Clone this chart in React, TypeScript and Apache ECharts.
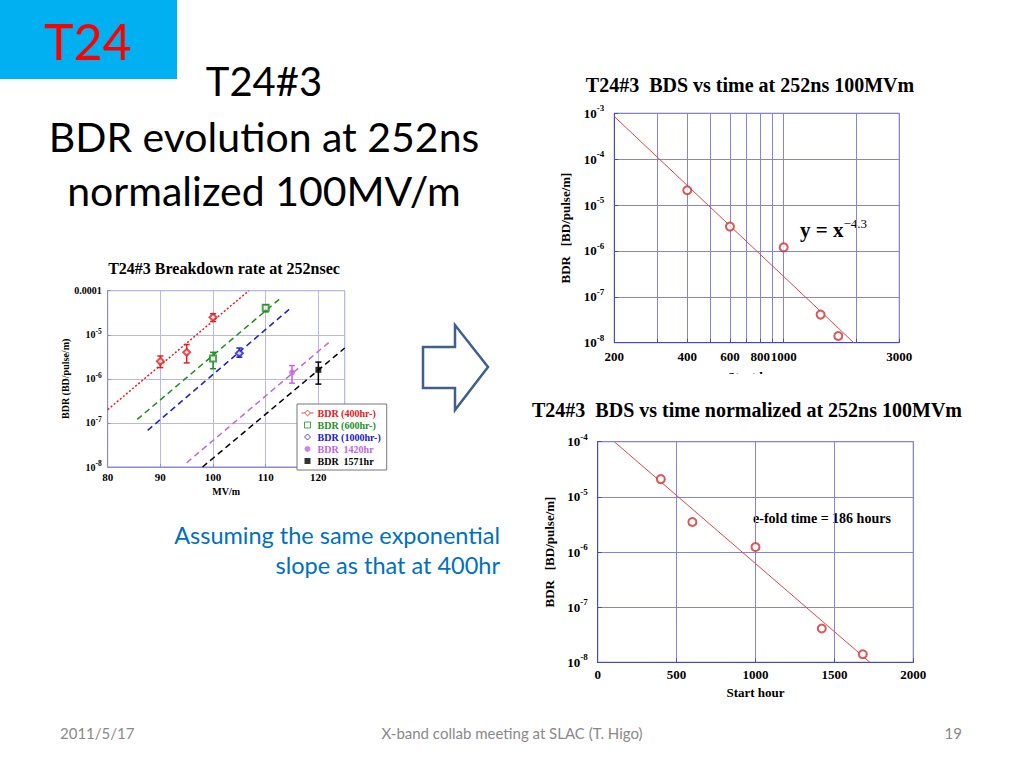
import React, { useEffect, useRef } from "react";
import * as echarts from "echarts";

// ---------- Left chart: T24#3 Breakdown rate at 252nsec (BDR vs MV/m) ----------
const fieldTicksA = [80, 90, 100, 110, 120];

const bdr400Field = [90, 95, 100];
const bdr400Value = [2.5e-6, 4.0e-6, 2.5e-5];
const bdr400Low = [1.8e-6, 2.3e-6, 2.0e-5];
const bdr400High = [3.3e-6, 6.0e-6, 3.0e-5];
const bdr400FitField = [80, 106.8];
const bdr400FitValue = [2.0e-7, 1.0e-4];

const bdr600Field = [100, 110];
const bdr600Value = [2.9e-6, 4.1e-5];
const bdr600Low = [1.7e-6, 3.3e-5];
const bdr600High = [4.0e-6, 4.8e-5];
const bdr600FitField = [85.6, 112.9];
const bdr600FitValue = [1.2e-7, 6.9e-5];

const bdr1000Field = [105];
const bdr1000Value = [3.8e-6];
const bdr1000Low = [3.1e-6];
const bdr1000High = [5.0e-6];
const bdr1000FitField = [87.6, 114.7];
const bdr1000FitValue = [6.8e-8, 4.0e-5];

const bdr1420Field = [115];
const bdr1420Value = [1.4e-6];
const bdr1420Low = [8.0e-7];
const bdr1420High = [2.0e-6];
const bdr1420FitField = [95, 122.3];
const bdr1420FitValue = [1.25e-8, 7.2e-6];

const bdr1571Field = [120];
const bdr1571Value = [1.6e-6];
const bdr1571Low = [7.6e-7];
const bdr1571High = [2.4e-6];
const bdr1571FitField = [98, 125];
const bdr1571FitValue = [1.0e-8, 5.0e-6];

const legendNamesA = ["BDR (400hr-)", "BDR (600hr-)", "BDR (1000hr-)", "BDR  1420hr", "BDR  1571hr"];

// ---------- Top-right chart: BDS vs time at 252ns 100MVm (log-log) ----------
const startHours = [400, 600, 1000, 1420, 1680];
const bdsAt100 = [2.1e-5, 3.4e-6, 1.2e-6, 4.1e-8, 1.4e-8];
const powerFitHours = [200, 1946];
const powerFitValue = [8.5e-4, 1.0e-8];
const hourTicksB = [200, 300, 400, 500, 600, 700, 800, 900, 1000, 2000, 3000];
const hourLabelsB = [200, 400, 600, 800, 1000, 3000];

// ---------- Bottom-right chart: BDS vs time normalized ----------
const bdsNormalized = [2.1e-5, 3.5e-6, 1.23e-6, 4.1e-8, 1.4e-8];
const expFitHours = [105, 1725];
const expFitValue = [1.0e-4, 1.0e-8];

const SERIF = '"Liberation Serif", "Times New Roman", serif';
const SANS = 'Lato, "Noto Sans", sans-serif';

const RED = "#e02020";
const GREEN = "#1f8f1f";
const BLUE = "#2020c8";
const PURPLE = "#c066e0";
const BLACK = "#000000";
const FIT_RED = "#d84848";

const AXIS_A = "#8a8ad6";
const GRID_A = "#b8b8ec";
const AXIS_B = "#4848c4";
const GRID_B = "#8484dc";

const pairs = (xs: number[], ys: number[]) => xs.map((x, i) => [x, ys[i]]);
const logPairs = (xs: number[], ys: number[]) => xs.map((x, i) => [Math.log10(x), ys[i]]);

function errorBars(name: string, xs: number[], lo: number[], hi: number[], color: string) {
  return {
    type: "custom",
    name,
    xAxisIndex: 0,
    yAxisIndex: 0,
    z: 2,
    silent: true,
    data: xs.map((x, i) => [x, lo[i], hi[i]]),
    encode: { x: 0, y: [1, 2] },
    renderItem: (_params: any, api: any) => {
      const x = api.value(0);
      const a = api.coord([x, api.value(1)]);
      const b = api.coord([x, api.value(2)]);
      const st = { stroke: color, lineWidth: 1.5 };
      return {
        type: "group",
        children: [
          { type: "line", shape: { x1: a[0], y1: a[1], x2: b[0], y2: b[1] }, style: st },
          { type: "line", shape: { x1: a[0] - 3, y1: a[1], x2: a[0] + 3, y2: a[1] }, style: st },
          { type: "line", shape: { x1: b[0] - 3, y1: b[1], x2: b[0] + 3, y2: b[1] }, style: st },
        ],
      };
    },
  };
}

function fitLine(name: string, data: number[][], color: string, dash: number[] | string, axis: number, width = 1.5) {
  return {
    type: "line",
    name,
    xAxisIndex: axis,
    yAxisIndex: axis,
    data,
    showSymbol: false,
    symbol: "none",
    silent: true,
    z: 1,
    lineStyle: { color, width, type: dash },
  };
}

const supRich = (size: number, supSize: number, lh: number) => ({
  b: { fontFamily: SERIF, fontWeight: "bold", fontSize: size, color: "#000", lineHeight: lh },
  s: { fontFamily: SERIF, fontWeight: "bold", fontSize: supSize, color: "#000", lineHeight: supSize + 2, verticalAlign: "top" },
});

const decadeLabel = (v: number) => `{b|10}{s|${Math.round(Math.log10(v))}}`;

export default function App() {
  const ref = useRef<HTMLDivElement>(null);

  useEffect(() => {
    if (!ref.current) return;
    const chart = echarts.init(ref.current, null, { renderer: "svg" });

    const boldSerif = (size: number) => ({ fontFamily: SERIF, fontWeight: "bold", fontSize: size, color: "#000" });

    const option: any = {
      animation: false,
      backgroundColor: "#ffffff",
      grid: [
        { left: 107.7, top: 290.7, width: 237, height: 176.3, show: true, borderColor: AXIS_A, borderWidth: 1 },
        { left: 614.3, top: 113.3, width: 285, height: 229.4, show: true, borderColor: AXIS_B, borderWidth: 1 },
        { left: 597.7, top: 441.7, width: 315.6, height: 220.6, show: true, borderColor: AXIS_B, borderWidth: 1 },
      ],
      xAxis: [
        {
          gridIndex: 0,
          type: "value",
          min: 80,
          max: 125,
          interval: 10,
          axisLine: { show: true, lineStyle: { color: AXIS_A } },
          axisTick: { show: true, inside: true, length: 3, lineStyle: { color: AXIS_A } },
          splitLine: { show: true, lineStyle: { color: GRID_A, width: 1 } },
          axisLabel: {
            ...boldSerif(11),
            margin: 4,
            formatter: (v: number) => (fieldTicksA.includes(v) ? String(v) : ""),
          },
          name: "MV/m",
          nameLocation: "middle",
          nameGap: 19,
          nameTextStyle: boldSerif(10),
        },
        {
          gridIndex: 1,
          type: "value",
          min: Math.log10(200),
          max: Math.log10(3000),
          axisLine: { show: true, lineStyle: { color: AXIS_B } },
          axisTick: {
            show: true,
            inside: true,
            length: 4,
            lineStyle: { color: AXIS_B },
            customValues: hourTicksB.map((h) => Math.log10(h)),
          },
          splitLine: { show: true, lineStyle: { color: GRID_B, width: 1 } },
          axisLabel: {
            ...boldSerif(13),
            margin: 7,
            hideOverlap: false,
            customValues: hourLabelsB.map((h) => Math.log10(h)),
            formatter: (v: number) => String(Math.round(Math.pow(10, v))),
          },
          name: "Start hour",
          nameLocation: "middle",
          nameGap: 27,
          nameTextStyle: boldSerif(13),
        },
        {
          gridIndex: 2,
          type: "value",
          min: 0,
          max: 2000,
          interval: 500,
          axisLine: { show: true, lineStyle: { color: AXIS_B } },
          axisTick: { show: true, inside: true, length: 4, lineStyle: { color: AXIS_B } },
          splitLine: { show: true, lineStyle: { color: GRID_B, width: 1 } },
          axisLabel: { ...boldSerif(13), margin: 6, formatter: (v: number) => String(v) },
          name: "Start hour",
          nameLocation: "middle",
          nameGap: 24,
          nameTextStyle: boldSerif(13),
        },
      ],
      yAxis: [
        {
          gridIndex: 0,
          type: "log",
          logBase: 10,
          min: 1e-8,
          max: 1e-4,
          axisLine: { show: true, lineStyle: { color: AXIS_A } },
          axisTick: { show: true, inside: true, length: 3, lineStyle: { color: AXIS_A } },
          splitLine: { show: true, lineStyle: { color: GRID_A, width: 1 } },
          axisLabel: {
            margin: 6,
            formatter: (v: number) => {
              const e = Math.round(Math.log10(v));
              return e === -4 ? "{b|0.0001}" : `{b|10}{s|${e}}`;
            },
            rich: supRich(10, 7.5, 15),
          },
          name: "BDR (BD/pulse/m)",
          nameLocation: "middle",
          nameGap: 29,
          nameTextStyle: boldSerif(10),
        },
        {
          gridIndex: 1,
          type: "log",
          logBase: 10,
          min: 1e-8,
          max: 1e-3,
          axisLine: { show: true, lineStyle: { color: AXIS_B } },
          axisTick: { show: true, inside: true, length: 4, lineStyle: { color: AXIS_B } },
          splitLine: { show: true, lineStyle: { color: GRID_B, width: 1 } },
          axisLabel: { margin: 10, formatter: decadeLabel, rich: supRich(13, 9, 19) },
          name: "BDR   [BD/pulse/m]",
          nameLocation: "middle",
          nameGap: 42,
          nameTextStyle: boldSerif(13),
        },
        {
          gridIndex: 2,
          type: "log",
          logBase: 10,
          min: 1e-8,
          max: 1e-4,
          axisLine: { show: true, lineStyle: { color: AXIS_B } },
          axisTick: { show: true, inside: true, length: 4, lineStyle: { color: AXIS_B } },
          splitLine: { show: true, lineStyle: { color: GRID_B, width: 1 } },
          axisLabel: { margin: 10, formatter: decadeLabel, rich: supRich(13, 9, 19) },
          name: "BDR   [BD/pulse/m]",
          nameLocation: "middle",
          nameGap: 42,
          nameTextStyle: boldSerif(13),
        },
      ],
      legend: {
        orient: "vertical",
        left: 297,
        top: 404,
        selectedMode: false,
        itemWidth: 12,
        itemHeight: 6,
        itemGap: 0,
        padding: [3, 6, 3, 4],
        backgroundColor: "#ffffff",
        borderColor: "#777777",
        borderWidth: 1,
        borderRadius: 0,
        textStyle: { fontFamily: SERIF, fontWeight: "bold", fontSize: 10, lineHeight: 12, padding: [0, 0, 0, -1] },
        data: [
          {
            name: legendNamesA[0],
            icon: "path://M0,5L2.6,5M7.4,5L10,5M5,2.6L7.4,5L5,7.4L2.6,5Z",
            itemStyle: { color: "#ffffff", borderColor: RED, borderWidth: 1 },
            textStyle: { color: RED },
          },
          {
            name: legendNamesA[1],
            icon: "path://M0,0L10,0L10,10L0,10Z",
            itemStyle: { color: "#ffffff", borderColor: GREEN, borderWidth: 1 },
            textStyle: { color: GREEN },
          },
          {
            name: legendNamesA[2],
            icon: "path://M5,0L10,5L5,10L0,5Z",
            itemStyle: { color: "#ffffff", borderColor: BLUE, borderWidth: 1 },
            textStyle: { color: BLUE },
          },
          {
            name: legendNamesA[3],
            icon: "circle",
            itemStyle: { color: PURPLE, borderWidth: 0 },
            textStyle: { color: PURPLE },
          },
          {
            name: legendNamesA[4],
            icon: "path://M0,0L10,0L10,10L0,10Z",
            itemStyle: { color: BLACK, borderWidth: 0 },
            textStyle: { color: BLACK },
          },
        ],
      },
      series: [
        // fit lines, left chart
        fitLine("fit400", pairs(bdr400FitField, bdr400FitValue), RED, [2, 2], 0),
        fitLine("fit600", pairs(bdr600FitField, bdr600FitValue), GREEN, [6, 4], 0),
        fitLine("fit1000", pairs(bdr1000FitField, bdr1000FitValue), BLUE, [6, 4], 0),
        fitLine("fit1420", pairs(bdr1420FitField, bdr1420FitValue), PURPLE, [6, 4], 0),
        fitLine("fit1571", pairs(bdr1571FitField, bdr1571FitValue), BLACK, [6, 4], 0),
        // error bars
        errorBars("err400", bdr400Field, bdr400Low, bdr400High, RED),
        errorBars("err600", bdr600Field, bdr600Low, bdr600High, GREEN),
        errorBars("err1000", bdr1000Field, bdr1000Low, bdr1000High, BLUE),
        errorBars("err1420", bdr1420Field, bdr1420Low, bdr1420High, PURPLE),
        errorBars("err1571", bdr1571Field, bdr1571Low, bdr1571High, BLACK),
        // measured points
        {
          type: "scatter", name: legendNamesA[0], xAxisIndex: 0, yAxisIndex: 0, z: 3,
          data: pairs(bdr400Field, bdr400Value), symbol: "emptyDiamond", symbolSize: 7,
          itemStyle: { color: RED, borderWidth: 1 },
        },
        {
          type: "scatter", name: legendNamesA[1], xAxisIndex: 0, yAxisIndex: 0, z: 3,
          data: pairs(bdr600Field, bdr600Value), symbol: "emptyRect", symbolSize: 6,
          itemStyle: { color: GREEN, borderWidth: 1 },
        },
        {
          type: "scatter", name: legendNamesA[2], xAxisIndex: 0, yAxisIndex: 0, z: 3,
          data: pairs(bdr1000Field, bdr1000Value), symbol: "emptyDiamond", symbolSize: 7,
          itemStyle: { color: BLUE, borderWidth: 1 },
        },
        {
          type: "scatter", name: legendNamesA[3], xAxisIndex: 0, yAxisIndex: 0, z: 3,
          data: pairs(bdr1420Field, bdr1420Value), symbol: "circle", symbolSize: 6,
          itemStyle: { color: PURPLE },
        },
        {
          type: "scatter", name: legendNamesA[4], xAxisIndex: 0, yAxisIndex: 0, z: 3,
          data: pairs(bdr1571Field, bdr1571Value), symbol: "rect", symbolSize: 6,
          itemStyle: { color: BLACK },
        },
        // top-right chart
        fitLine("powerFit", logPairs(powerFitHours, powerFitValue), FIT_RED, "solid", 1, 1),
        {
          type: "scatter", name: "BDS at 100MV/m", xAxisIndex: 1, yAxisIndex: 1, z: 3,
          data: logPairs(startHours, bdsAt100), symbol: "emptyCircle", symbolSize: 8,
          itemStyle: { color: "#d03030", borderWidth: 0.8 },
        },
        // bottom-right chart
        fitLine("expFit", pairs(expFitHours, expFitValue), FIT_RED, "solid", 2, 1),
        {
          type: "scatter", name: "BDS normalized", xAxisIndex: 2, yAxisIndex: 2, z: 3,
          data: pairs(startHours, bdsNormalized), symbol: "emptyCircle", symbolSize: 8,
          itemStyle: { color: "#d03030", borderWidth: 0.8 },
        },
      ],
      graphic: [
        { type: "rect", shape: { x: 0, y: 0, width: 177, height: 79 }, style: { fill: "#00B0F0" } },
        { type: "text", x: 44, y: 41, style: { text: "T24", fill: "#FF0000", font: `50px ${SANS}`, align: "left", verticalAlign: "middle" } },
        { type: "text", x: 264, y: 81, style: { text: "T24#3", fill: "#000", font: `40px ${SANS}`, align: "center", verticalAlign: "middle" } },
        { type: "text", x: 264, y: 136, style: { text: "BDR evolution at 252ns", fill: "#000", font: `41px ${SANS}`, align: "center", verticalAlign: "middle" } },
        { type: "text", x: 264, y: 190, style: { text: "normalized 100MV/m", fill: "#000", font: `41px ${SANS}`, align: "center", verticalAlign: "middle" } },
        { type: "text", x: 224, y: 268, style: { text: "T24#3 Breakdown rate at 252nsec", fill: "#000", font: `bold 16px ${SERIF}`, align: "center", verticalAlign: "middle" } },
        { type: "text", x: 750, y: 85, style: { text: "T24#3  BDS vs time at 252ns 100MVm", fill: "#000", font: `bold 20px ${SERIF}`, align: "center", verticalAlign: "middle" } },
        { type: "text", x: 747, y: 410, style: { text: "T24#3  BDS vs time normalized at 252ns 100MVm", fill: "#000", font: `bold 20px ${SERIF}`, align: "center", verticalAlign: "middle" } },
        {
          type: "text", x: 800, y: 230,
          style: {
            text: "{a|y = x}{b|−4.3}",
            align: "left",
            verticalAlign: "middle",
            rich: {
              a: { fontFamily: SERIF, fontWeight: "bold", fontSize: 21, fill: "#000", lineHeight: 26 },
              b: { fontFamily: SERIF, fontSize: 13, fill: "#000", lineHeight: 12, verticalAlign: "top" },
            },
          },
        },
        { type: "text", x: 753, y: 518, style: { text: "e-fold time = 186 hours", fill: "#000", font: `bold 14px ${SERIF}`, align: "left", verticalAlign: "middle" } },
        { type: "rect", z: 100, shape: { x: 550, y: 374, width: 390, height: 22 }, style: { fill: "#ffffff" } },
        {
          type: "polygon",
          shape: { points: [[423, 347], [455, 347], [455, 325], [488, 367], [455, 410], [455, 388], [423, 388]] },
          style: { fill: "#ffffff", stroke: "#3f5f8c", lineWidth: 2.5 },
        },
        { type: "text", x: 500, y: 535, style: { text: "Assuming the same exponential", fill: "#0070C0", font: `23.5px ${SANS}`, align: "right", verticalAlign: "middle" } },
        { type: "text", x: 500, y: 565, style: { text: "slope as that at 400hr", fill: "#0070C0", font: `23.5px ${SANS}`, align: "right", verticalAlign: "middle" } },
        { type: "text", x: 60, y: 733, style: { text: "2011/5/17", fill: "#898989", font: `15px ${SANS}`, align: "left", verticalAlign: "middle" } },
        { type: "text", x: 512, y: 733, style: { text: "X-band collab meeting at SLAC (T. Higo)", fill: "#898989", font: `15px ${SANS}`, align: "center", verticalAlign: "middle" } },
        { type: "text", x: 962, y: 733, style: { text: "19", fill: "#898989", font: `15px ${SANS}`, align: "right", verticalAlign: "middle" } },
      ],
    };

    chart.setOption(option);
    return () => chart.dispose();
  }, []);

  return (
    <div
      ref={ref}
      style={{ position: "fixed", left: 0, top: 0, width: 1024, height: 768, background: "#ffffff" }}
    />
  );
}
